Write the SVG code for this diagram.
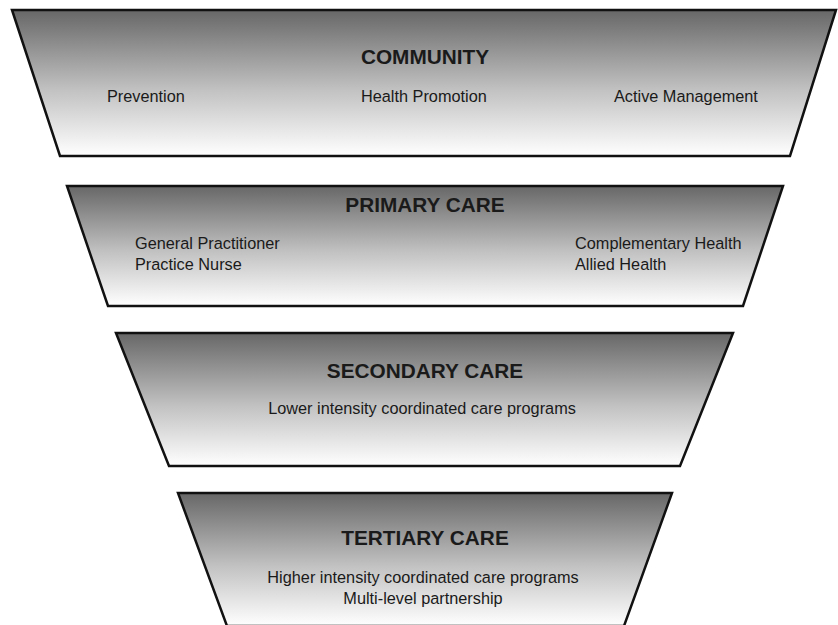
<svg xmlns="http://www.w3.org/2000/svg" width="838" height="625" viewBox="0 0 838 625">
  <defs>
    <linearGradient id="tierFill" x1="0" y1="0" x2="0" y2="1">
      <stop offset="0" stop-color="#676767"/>
      <stop offset="0.55" stop-color="#c2c2c2"/>
      <stop offset="1" stop-color="#ffffff"/>
    </linearGradient>
  </defs>
  <style>
    .tier { fill: url(#tierFill); stroke: #111; stroke-width: 2.5; stroke-linejoin: miter; }
    .title { font-family: "Liberation Sans", Arial, sans-serif; font-weight: bold; font-size: 20.8px; fill: #1a1a1a; text-anchor: middle; }
    .item { font-family: "Liberation Sans", Arial, sans-serif; font-size: 16.3px; fill: #1a1a1a; }
    .mid { text-anchor: middle; }
  </style>
  <rect width="838" height="625" fill="#ffffff"/>

  <!-- Community tier -->
  <g id="community">
    <polygon class="tier" points="12,10 836,10 790,156 60,156"/>
    <text class="title" x="425" y="64">COMMUNITY</text>
    <text class="item" x="107" y="102">Prevention</text>
    <text class="item" x="361" y="102">Health Promotion</text>
    <text class="item" x="614" y="102">Active Management</text>
  </g>

  <!-- Primary care tier -->
  <g id="primary-care">
    <polygon class="tier" points="67,186 783,186 743,306 108,306"/>
    <text class="title" x="425" y="212">PRIMARY CARE</text>
    <text class="item" x="135" y="249">General Practitioner</text>
    <text class="item" x="135" y="270">Practice Nurse</text>
    <text class="item" x="575" y="249">Complementary Health</text>
    <text class="item" x="575" y="270">Allied Health</text>
  </g>

  <!-- Secondary care tier -->
  <g id="secondary-care">
    <polygon class="tier" points="116,333 733,333 680,466 169,466"/>
    <text class="title" x="425" y="378">SECONDARY CARE</text>
    <text class="item mid" x="422" y="414">Lower intensity coordinated care programs</text>
  </g>

  <!-- Tertiary care tier -->
  <g id="tertiary-care">
    <polygon class="tier" points="178,493 672,493 624,626 227,626"/>
    <text class="title" x="425" y="545">TERTIARY CARE</text>
    <text class="item mid" x="423" y="583">Higher intensity coordinated care programs</text>
    <text class="item mid" x="423" y="604">Multi-level partnership</text>
  </g>
</svg>
